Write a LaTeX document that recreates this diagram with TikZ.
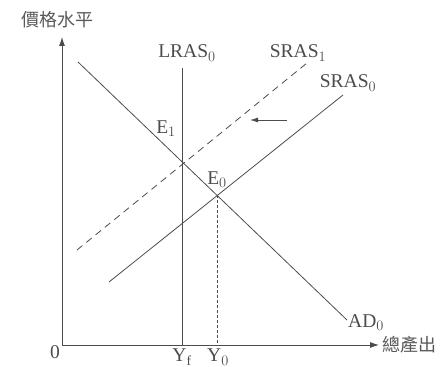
\documentclass[tikz,border=0pt]{standalone}
\usepackage{fontspec}
\setmainfont{Liberation Serif}
\newfontfamily\cjk{Noto Sans CJK TC}
\usetikzlibrary{arrows.meta}
\tikzset{
  curve/.style={line width=0.8pt, black!70},
  axis/.style={curve, -{Latex[length=9pt,width=6pt]}},
  shifted/.style={curve, dash pattern=on 7pt off 5pt},
  lbl/.style={font=\fontsize{19.5}{22}\selectfont, text=black!70, inner sep=1pt},
  cjklbl/.style={font=\cjk\fontsize{18}{21}\selectfont, text=black!65, inner sep=1pt},
}
\begin{document}
\begin{tikzpicture}[x=1pt,y=1pt]
\useasboundingbox (0,0) rectangle (445,367);
% axes
\coordinate (o) at (62,22);
\coordinate (ytip) at (62,330);
\coordinate (xtip) at (379,22);
\draw[axis] (o) -- (ytip);
\draw[axis] (o) -- (xtip);
\node[cjklbl, anchor=west] (ylab) at (20,347) {價格水平};
\node[cjklbl, anchor=west] (xlab) at (381,22) {總產出};
\node[lbl] (zero) at (55,15) {0};

% curves
\coordinate (lrasTop) at (182,299);
\coordinate (lrasBot) at (182,22);
\coordinate (adTop) at (78,305);
\coordinate (adBot) at (347,47);
\coordinate (s0Bot) at (109,85);
\coordinate (s0Top) at (343,272);
\coordinate (s1Bot) at (77,117);
\coordinate (s1Top) at (307,304);
\coordinate (e0) at (217,172);
\coordinate (y0) at (217,22);

\draw[curve] (lrasBot) -- (lrasTop);
\draw[curve] (adTop) -- (adBot);
\draw[curve] (s0Bot) -- (s0Top);
\draw[shifted] (s1Bot) -- (s1Top);
\draw[curve, densely dashed] (e0) -- (y0);

% labels
\node[lbl] (lras) at (187,314) {LRAS$_0$};
\node[lbl] (sras1) at (298,314) {SRAS$_1$};
\node[lbl] (sras0) at (348,284) {SRAS$_0$};
\node[lbl, anchor=west] (ad) at (347,44) {AD$_0$};
\node[lbl] (e1lab) at (166,238) {E$_1$};
\node[lbl] (e0lab) at (217,187) {E$_0$};
\node[lbl, anchor=base] (yf) at (182,5) {Y$_{\rm f}$};
\node[lbl, anchor=base] (y0lab) at (218,5) {Y$_0$};

% shift arrow
\coordinate (arrR) at (287,247);
\coordinate (arrL) at (250,247);
\draw[curve, -{Latex[length=8pt,width=5pt]}] (arrR) -- (arrL);
\end{tikzpicture}
\end{document}
